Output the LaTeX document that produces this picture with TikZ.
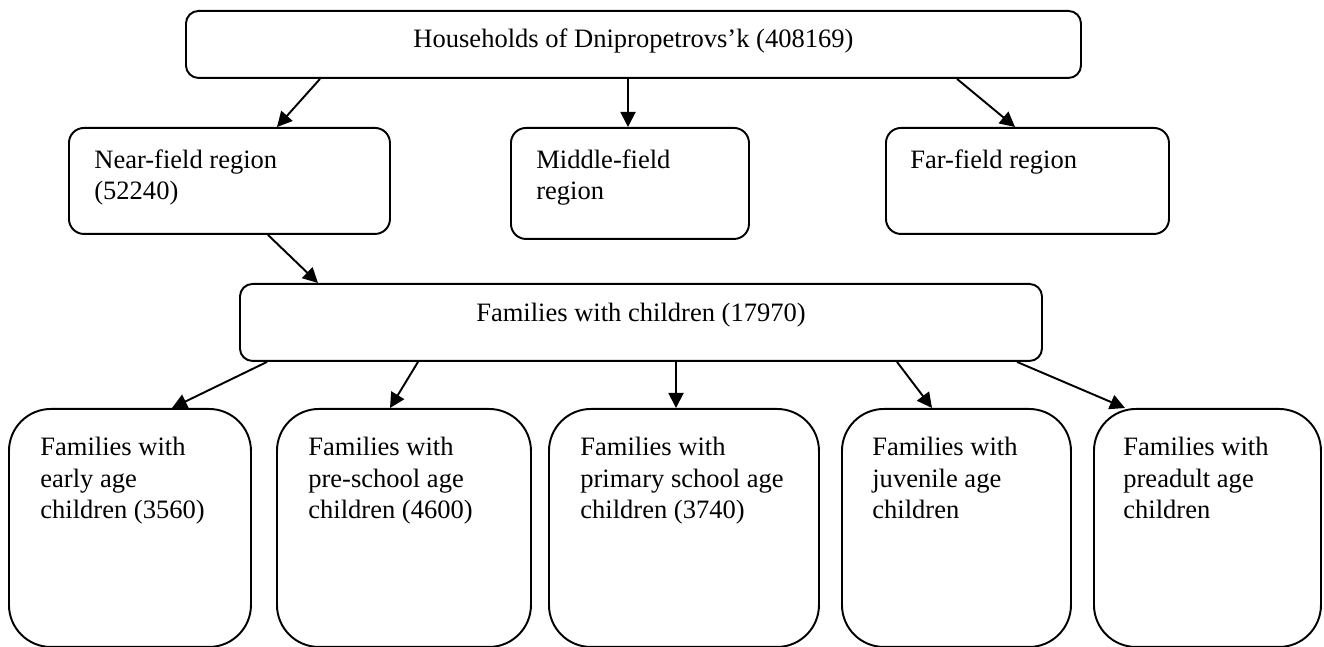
\documentclass[tikz,border=0pt]{standalone}
\usepackage{fontspec}
\setmainfont{Liberation Serif}
\usetikzlibrary{positioning}
\usetikzlibrary{arrows.meta}

\begin{document}
\begin{tikzpicture}
    \tikzset{base/.style = {rectangle, draw=black, line width=1.1pt,
                           inner sep=0pt, anchor=north west}}
    \tikzset{flat/.style = {base, rounded corners=0.25cm}}
    \tikzset{region/.style = {base, rounded corners=0.3cm, minimum height=2.12cm}}
    \tikzset{group/.style = {base, rounded corners=0.84cm, minimum height=4.76cm}}
    \tikzset{txt/.style = {inner sep=0pt, align=left, anchor=north west,
                          font=\fontsize{15.1}{17.8}\selectfont}}
    \tikzset{arr/.style = {-{Triangle[length=0.3cm,width=0.3cm]}, line width=1.1pt}}

    \useasboundingbox (0,0) rectangle (26.48,12.94);

    % boxes
    \node (HH) [flat, minimum width=17.9cm, minimum height=1.34cm] at (3.70,12.74) {};
    \node (NF) [region, minimum width=6.42cm] at (1.36,10.40) {};
    \node (MF) [region, minimum width=4.76cm, minimum height=2.22cm] at (10.20,10.40) {};
    \node (FF) [region, minimum width=5.66cm] at (17.70,10.40) {};
    \node (CH) [flat, minimum width=16.04cm, minimum height=1.54cm] at (4.78,7.28) {};
    \node (B1) [group, minimum width=4.84cm] at (0.16,4.78) {};
    \node (B2) [group, minimum width=5.08cm] at (5.52,4.78) {};
    \node (B3) [group, minimum width=5.40cm] at (10.96,4.78) {};
    \node (B4) [group, minimum width=4.58cm] at (16.82,4.78) {};
    \node (B5) [group, minimum width=4.54cm] at (21.86,4.78) {};

    % texts
    \node (HHt) [txt, anchor=base] at ([yshift=-0.76cm]HH.north) {Households of Dnipropetrovs’k (408169)};
    \node (NFt) [txt] at ([xshift=0.52cm,yshift=-0.44cm]NF.north west) {Near-field region\\(52240)};
    \node (MFt) [txt] at ([xshift=0.52cm,yshift=-0.44cm]MF.north west) {Middle-field\\region};
    \node (FFt) [txt] at ([xshift=0.50cm,yshift=-0.44cm]FF.north west) {Far-field region};
    \node (CHt) [txt, anchor=base] at ([yshift=-0.78cm]CH.north) {Families with children (17970)};
    \node (B1t) [txt] at ([xshift=0.64cm,yshift=-0.58cm]B1.north west) {Families with\\early age\\children (3560)};
    \node (B2t) [txt] at ([xshift=0.64cm,yshift=-0.58cm]B2.north west) {Families with\\pre-school age\\children (4600)};
    \node (B3t) [txt] at ([xshift=0.64cm,yshift=-0.58cm]B3.north west) {Families with\\primary school age\\children (3740)};
    \node (B4t) [txt] at ([xshift=0.62cm,yshift=-0.58cm]B4.north west) {Families with\\juvenile age\\children};
    \node (B5t) [txt] at ([xshift=0.60cm,yshift=-0.58cm]B5.north west) {Families with\\preadult age\\children};

    % arrows
    \draw[arr] ([xshift=2.70cm]HH.south west) -- ([xshift=4.18cm]NF.north west);
    \draw[arr] ([xshift=8.86cm]HH.south west) -- ([xshift=2.36cm]MF.north west);
    \draw[arr] ([xshift=15.44cm]HH.south west) -- ([xshift=2.60cm]FF.north west);
    \draw[arr] ([xshift=4.00cm]NF.south west) -- ([xshift=1.58cm]CH.north west);
    \draw[arr] ([xshift=0.56cm]CH.south west) -- ([xshift=3.28cm]B1.north west);
    \draw[arr] ([xshift=3.58cm]CH.south west) -- ([xshift=2.28cm]B2.north west);
    \draw[arr] ([xshift=8.74cm]CH.south west) -- ([xshift=2.56cm]B3.north west);
    \draw[arr] ([xshift=13.16cm]CH.south west) -- ([xshift=1.82cm]B4.north west);
    \draw[arr] ([xshift=15.56cm]CH.south west) -- ([xshift=0.64cm]B5.north west);

\end{tikzpicture}
\end{document}
